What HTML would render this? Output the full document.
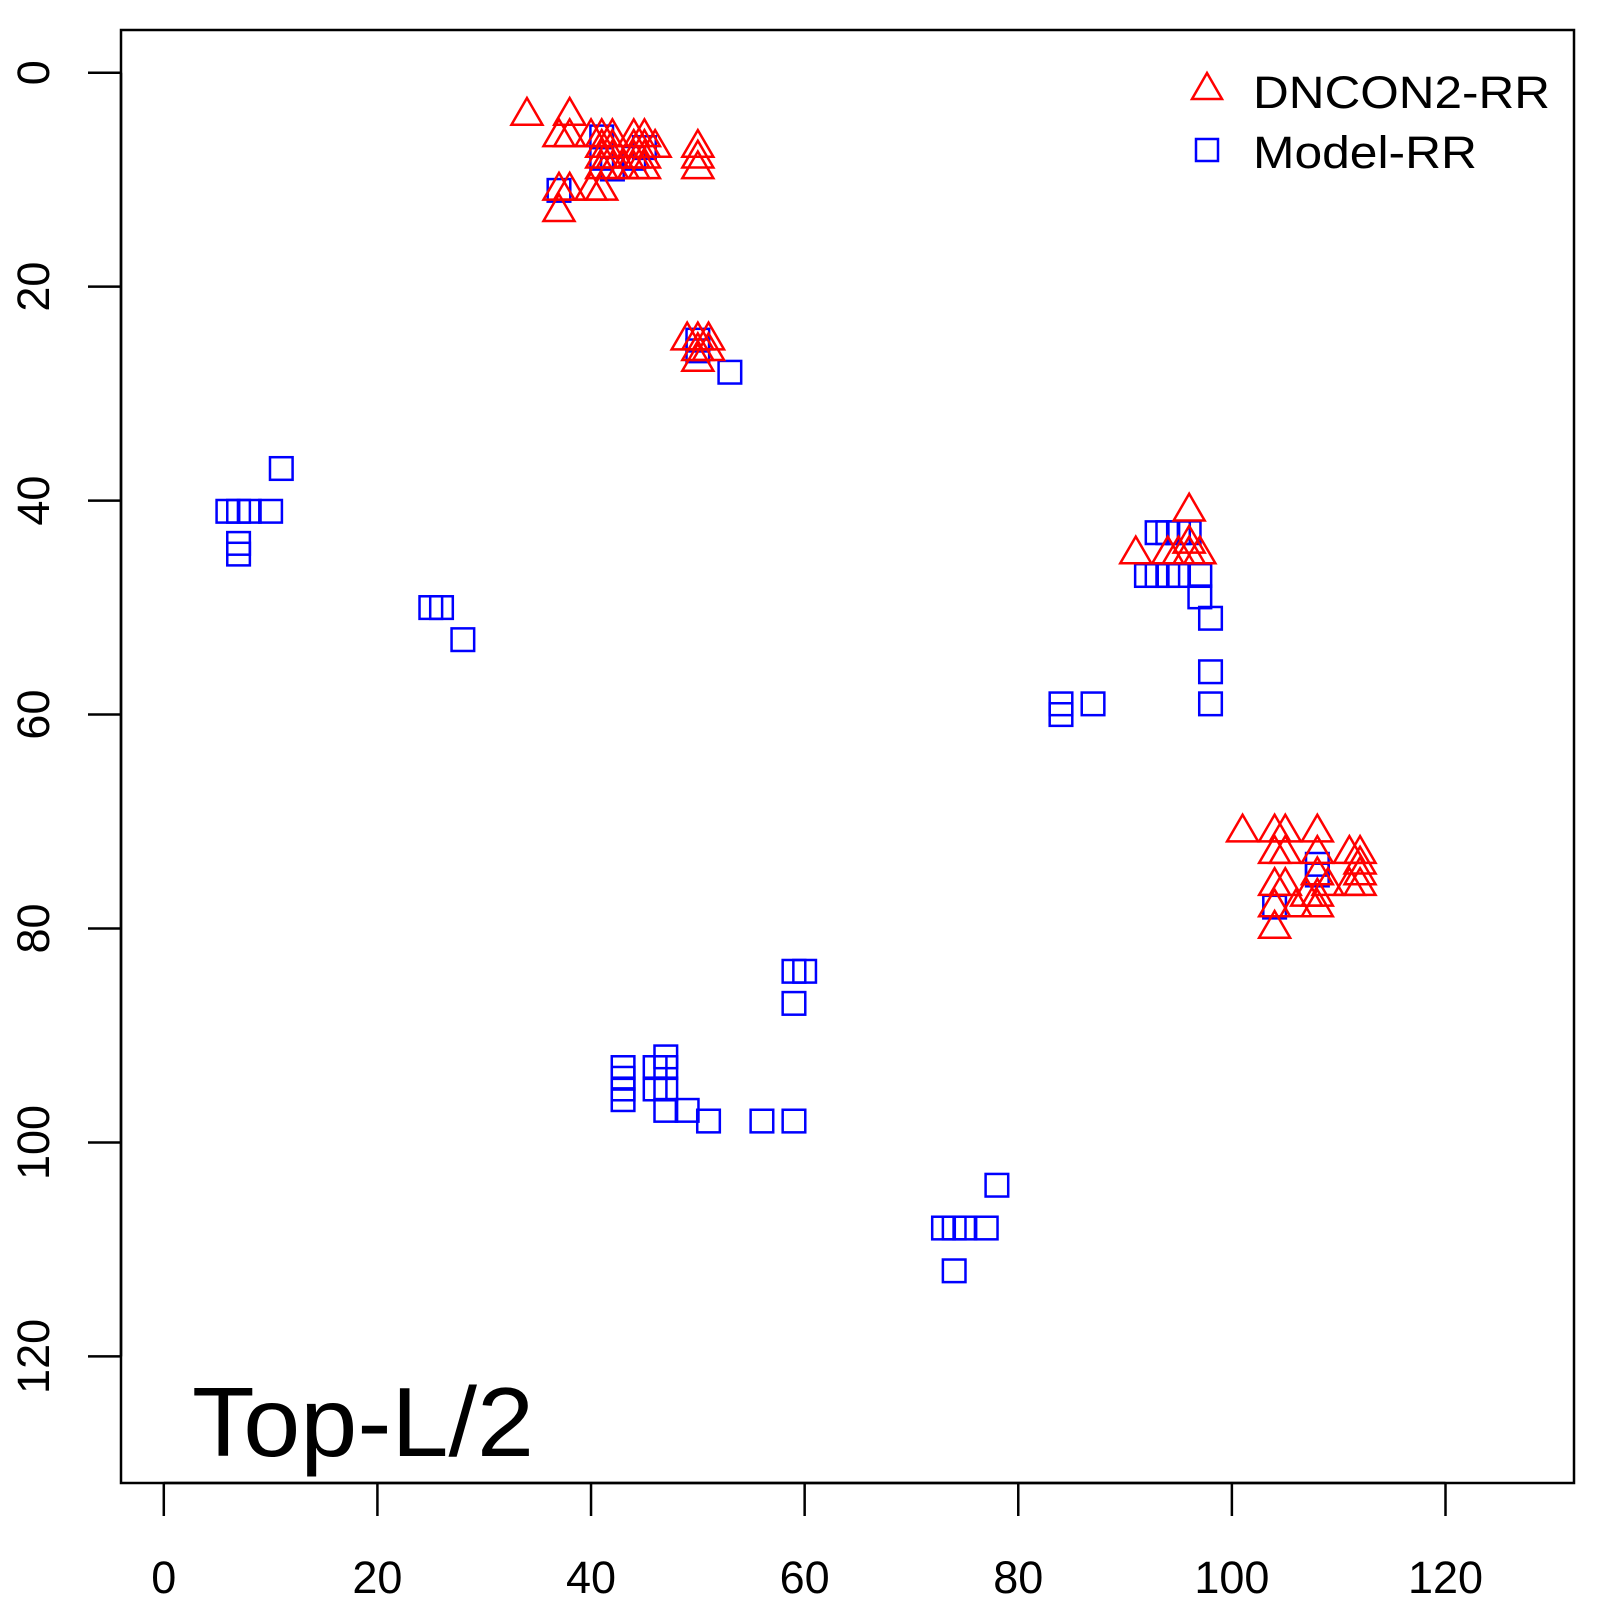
<!DOCTYPE html>
<html><head><meta charset="utf-8"><style>
body{margin:0;background:#fff}
svg text{font-family:"Liberation Sans",sans-serif}
</style></head><body>
<svg id="chart" width="1600" height="1600" xmlns="http://www.w3.org/2000/svg">
<rect x="121" y="30" width="1453" height="1453" fill="none" stroke="#000" stroke-width="2.5"/>
<g id="axes"></g>
<g id="marks"></g>
<text x="192" y="1456" font-size="98" textLength="342" lengthAdjust="spacingAndGlyphs">Top-L/2</text>
<g>
<polygon points="1207,73 1192,99 1222,99" fill="none" stroke="#f00" stroke-width="2.5"/>
<text x="1253" y="108" font-size="45" textLength="297" lengthAdjust="spacingAndGlyphs">DNCON2-RR</text>
<rect x="1196" y="139" width="22" height="22" fill="none" stroke="#00f" stroke-width="2.5"/>
<text x="1253" y="168" font-size="45" textLength="224" lengthAdjust="spacingAndGlyphs">Model-RR</text>
</g>
</svg>
<script>
const xTicks=[0,20,40,60,80,100,120];
const yTicks=[0,20,40,60,80,100,120];
const dnconX=[34,38,37,38,40,41,42,44,45,41,42,44,45,46,41,42,44,45,41,42,43,44,45,37,38,40,41,37,50,50,50,49,50,51,50,51,50,96,91,94,96,95,96,97,101,104,105,108,104,105,108,111,112,112,108,112,104,105,107,108,109,111,112,104,106,108,104];
const dnconY=[4,4,6,6,6,6,6,6,6,7,7,7,7,7,8,8,8,8,9,9,9,9,9,11,11,11,11,13,7,8,9,25,25,25,26,26,27,41,45,45,44,45,45,45,71,71,71,71,73,73,73,73,73,74,75,75,76,76,77,77,76,76,76,78,78,78,80];
const modelX=[41,41,42,44,45,37,50,50,53,11,6,7,8,10,7,7,25,26,28,93,94,95,96,92,93,94,95,97,97,98,98,98,84,84,87,108,108,104,59,60,59,43,43,43,43,46,46,47,47,47,47,49,51,56,59,78,73,74,75,77,74];
const modelY=[6,8,9,8,7,11,25,26,28,37,41,41,41,41,44,45,50,50,53,43,43,43,43,47,47,47,47,47,49,51,56,59,59,60,59,74,75,78,84,84,87,93,94,95,96,93,95,92,93,95,97,97,98,98,98,104,108,108,108,108,112];
const NS="http://www.w3.org/2000/svg";
const sx=v=>163.8+v*(1445.5-163.8)/120;
const sy=v=>72.7+v*(1356.4-72.7)/120;
const axes=document.getElementById('axes'),marks=document.getElementById('marks');
function mk(tag,attrs,parent){const e=document.createElementNS(NS,tag);for(const k in attrs)e.setAttribute(k,attrs[k]);parent.appendChild(e);return e;}
const xl=mk('line',{x1:sx(0),x2:sx(120),y1:1483,y2:1483,stroke:'#000','stroke-width':2.5},axes);


xTicks.forEach(t=>{
 const l=mk('line',{x1:sx(t),x2:sx(t),y1:1483,y2:1516,stroke:'#000','stroke-width':2.5},axes);
 
 
 const tx=mk('text',{x:sx(t),y:1593,'font-size':45,'text-anchor':'middle'},axes);tx.textContent=t;
 
 
});
const yl=mk('line',{x1:121,x2:121,y1:sy(0),y2:sy(120),stroke:'#000','stroke-width':2.5},axes);


yTicks.forEach(t=>{
 const l=mk('line',{x1:88,x2:121,y1:sy(t),y2:sy(t),stroke:'#000','stroke-width':2.5},axes);
 
 
 const tx=mk('text',{x:0,y:0,'font-size':45,'text-anchor':'middle',transform:`translate(49,${sy(t)}) rotate(-90)`},axes);tx.textContent=t;
 
 
});
modelX.forEach((x,i)=>{
 const cx=sx(x),cy=sy(modelY[i]);
 const r=mk('rect',{x:cx-11.3,y:cy-11.3,width:22.6,height:22.6,fill:'none',stroke:'#00f','stroke-width':2.5},marks);
 
 
});
dnconX.forEach((x,i)=>{
 const cx=sx(x),cy=sy(dnconY[i]);
 const p=mk('polygon',{points:`${cx},${cy-17.5} ${cx-15.5},${cy+9.2} ${cx+15.5},${cy+9.2}`,fill:'none',stroke:'#f00','stroke-width':2.5},marks);
 
 
});
</script>
</body></html>
